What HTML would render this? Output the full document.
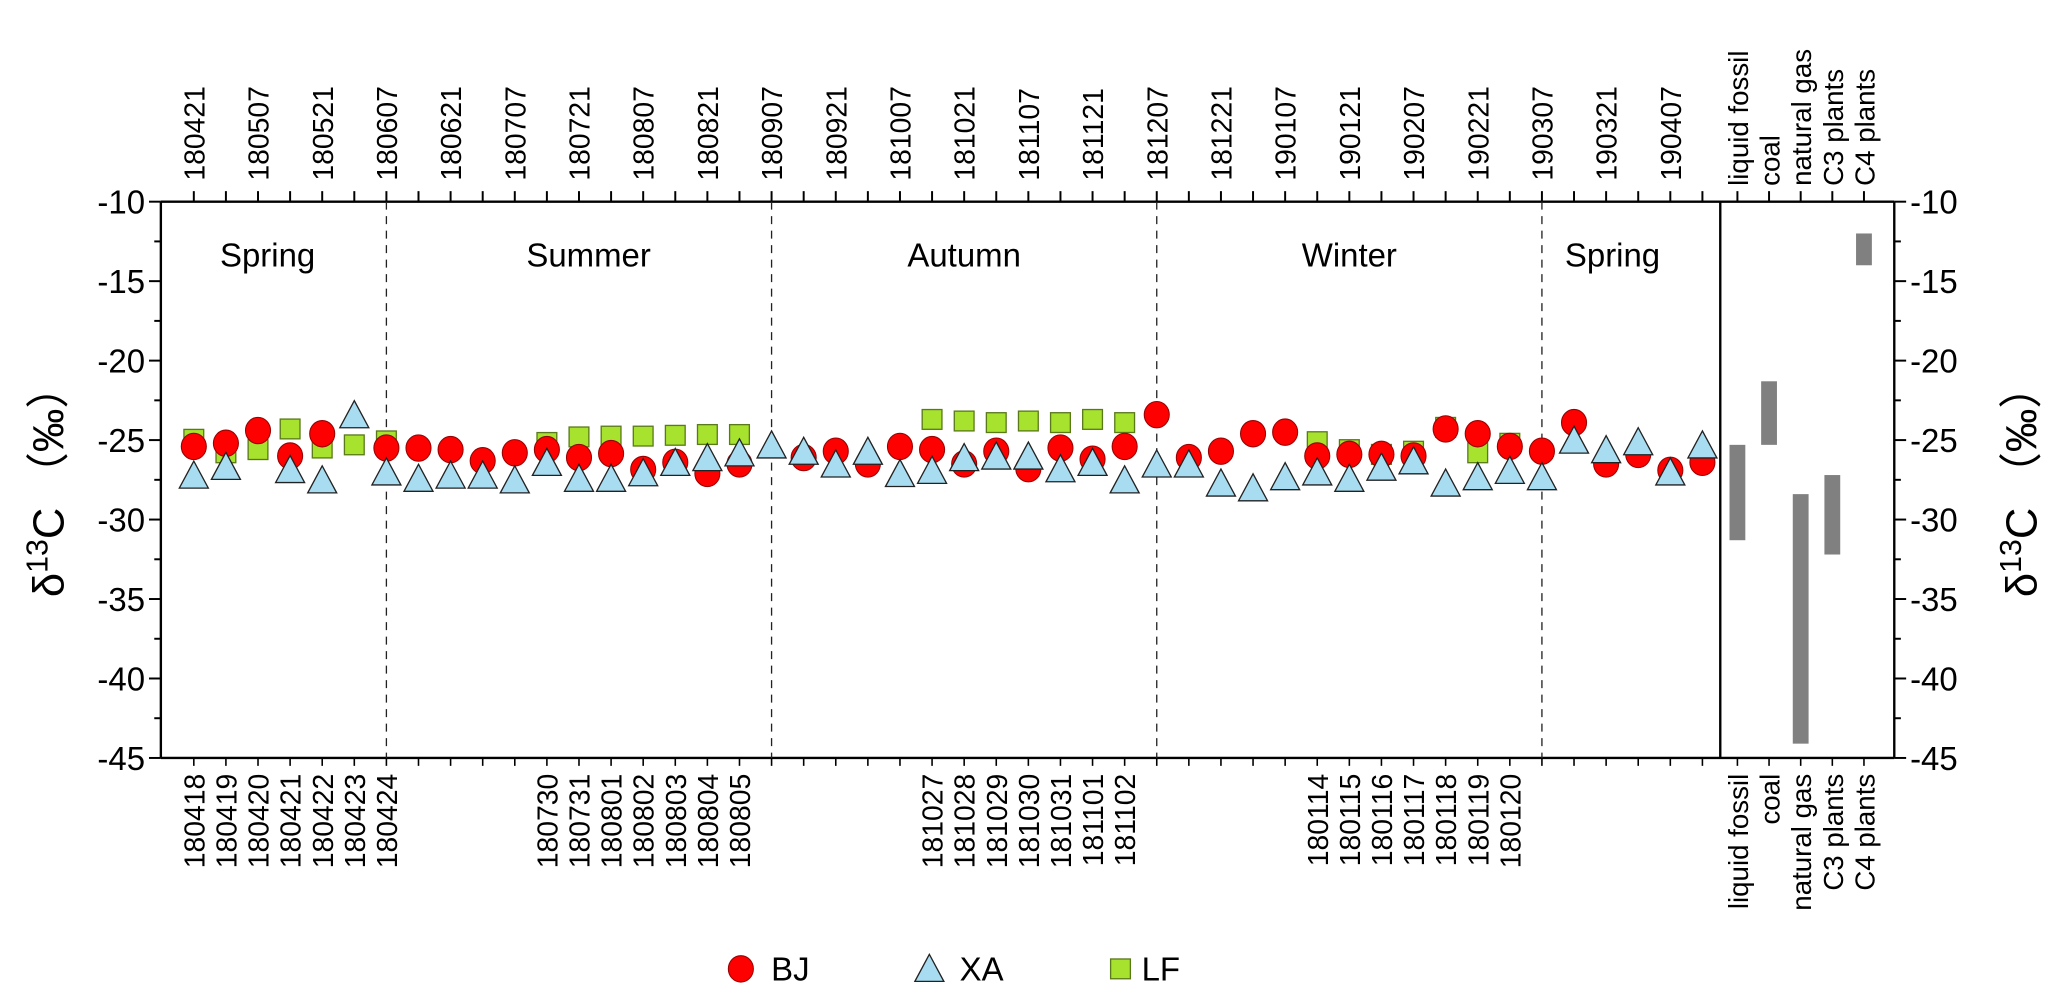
<!DOCTYPE html>
<html><head><meta charset="utf-8"><style>
html,body{margin:0;padding:0;background:#fff}
svg{display:block;font-family:"Liberation Sans",Arial,sans-serif}
</style></head><body>
<svg id="chart" width="2067" height="998" viewBox="0 0 1568 757.1" xmlns="http://www.w3.org/2000/svg"></svg>
<script>
const topLabels=["180421","180507","180521","180607","180621","180707","180721","180807","180821","180907","180921","181007","181021","181107","181121","181207","181221","190107","190121","190207","190221","190307","190321","190407"];
const bottomIdx=[0,1,2,3,4,5,6,11,12,13,14,15,16,17,23,24,25,26,27,28,29,35,36,37,38,39,40,41];
const bottomLabels=["180418","180419","180420","180421","180422","180423","180424","180730","180731","180801","180802","180803","180804","180805","181027","181028","181029","181030","181031","181101","181102","180114","180115","180116","180117","180118","180119","180120"];
const bjValues=[-25.4,-25.2,-24.4,-26.0,-24.6,null,-25.5,-25.5,-25.6,-26.3,-25.8,-25.6,-26.1,-25.85,-26.85,-26.4,-27.1,-26.5,null,-26.1,-25.7,-26.5,-25.4,-25.6,-26.5,-25.7,-26.8,-25.5,-26.2,-25.4,-23.4,-26.1,-25.7,-24.6,-24.5,-26.0,-25.9,-25.9,-26.0,-24.3,-24.6,-25.4,-25.7,-23.9,-26.5,-25.9,-26.9,-26.4];
const xaValues=[-27.4,-26.85,null,-27.05,-27.7,-23.6,-27.2,-27.6,-27.4,-27.4,-27.7,-26.6,-27.6,-27.6,-27.25,-26.6,-26.3,-26.0,-25.5,-25.9,-26.7,-25.9,-27.3,-27.1,-26.3,-26.2,-26.2,-27.0,-26.6,-27.7,-26.7,-26.7,-27.9,-28.2,-27.5,-27.2,-27.6,-26.9,-26.5,-27.9,-27.5,-27.1,-27.5,-25.2,-25.8,-25.3,-27.2,-25.5];
const lfValues=[-24.95,-25.8,-25.6,-24.3,-25.5,-25.3,-25.05,null,null,null,null,-25.15,-24.8,-24.75,-24.75,-24.7,-24.65,-24.65,null,null,null,null,null,-23.7,-23.8,-23.9,-23.8,-23.9,-23.7,-23.9,null,null,null,null,null,-25.1,-25.6,-25.9,-25.7,-24.2,-25.8,-25.2,null,null,null,null,null,null];
const sourceNames=["liquid fossil","coal","natural gas","C3 plants","C4 plants"];
const sourceTop=[-25.3,-21.3,-28.4,-27.2,-12.0];
const sourceBottom=[-31.3,-25.3,-44.1,-32.2,-14.0];
const seasonNames=["Spring","Summer","Autumn","Winter","Spring"];
const seasonCenters=[2.3,12.3,24,36,44.2];
const dividers=[6,18,30,42];
const yTicks=[-10,-15,-20,-25,-30,-35,-40,-45];

const NS="http://www.w3.org/2000/svg";
const svg=document.getElementById('chart');
const L=122,R=1305,R2=1437,T=153,B=575;
const x=i=>147+24.35*i;
const y=v=>T+(v+10)*(-(B-T)/35);
const sx=i=>1318+24*i;
function mk(tag,attrs,parent){const e=document.createElementNS(NS,tag);for(const k in attrs)e.setAttribute(k,attrs[k]);(parent||svg).appendChild(e);return e;}
function txt(s,attrs,parent){const e=mk('text',attrs,parent);e.textContent=s;return e;}

let g=mk('g',{});


mk('line',{x1:L,y1:T,x2:R2,y2:T,stroke:'#000','stroke-width':1.8},g);
mk('line',{x1:L,y1:B,x2:R2,y2:B,stroke:'#000','stroke-width':1.8},g);
mk('line',{x1:L,y1:T,x2:L,y2:B,stroke:'#000','stroke-width':1.8},g);
mk('line',{x1:R,y1:T,x2:R,y2:B,stroke:'#000','stroke-width':1.8},g);
mk('line',{x1:R2,y1:T,x2:R2,y2:B,stroke:'#000','stroke-width':1.8},g);

const ya=mk('g',{});


for(let v=-10;v>=-45;v-=2.5){const maj=(v%5===0);const len=maj?9:5;
 mk('line',{x1:L-len,y1:y(v),x2:L,y2:y(v),stroke:'#000','stroke-width':1.5},ya);
 mk('line',{x1:R2,y1:y(v),x2:R2+len,y2:y(v),stroke:'#000','stroke-width':1.5},ya);}
yTicks.forEach(v=>{
 const a=txt(String(v),{x:L-12,y:y(v)+9,'font-size':25,'text-anchor':'end'},ya);
 
 
 const b=txt(String(v),{x:R2+12,y:y(v)+9,'font-size':25,'text-anchor':'start'},ya);
 
 
});
function ytitle(cx,name){const t=mk('text',{transform:`translate(${cx},365) rotate(-90)`,'font-size':33,'text-anchor':'middle'});
 
 
 t.innerHTML='δ<tspan dy="-12" font-size="23">13</tspan><tspan dy="12">C （‰）</tspan>';}
ytitle(48,'y-axis-title');ytitle(1545,'right-y-axis-title');

const xa=mk('g',{});


for(let i=0;i<48;i++){mk('line',{x1:x(i),y1:T-8,x2:x(i),y2:T,stroke:'#000','stroke-width':1.5},xa);
 mk('line',{x1:x(i),y1:B,x2:x(i),y2:B+6,stroke:'#000','stroke-width':1.2},xa);}
topLabels.forEach((s,k)=>{const i=k*2;
 const t=txt(s,{transform:`translate(${x(i)+8},${T-16}) rotate(-90)`,'font-size':21.5,'text-anchor':'start'},xa);
 
 });
bottomLabels.forEach((s,k)=>{const i=bottomIdx[k];
 const t=txt(s,{transform:`translate(${x(i)+8},${B+12}) rotate(-90)`,'font-size':21.5,'text-anchor':'end'},xa);
 
 });

dividers.forEach(i=>{const l=mk('line',{x1:x(i),y1:T,x2:x(i),y2:B,stroke:'#222','stroke-width':1,'stroke-dasharray':'6,5'});
 
 });
seasonNames.forEach((s,k)=>{const t=txt(s,{x:x(seasonCenters[k]),y:202,'font-size':25,'text-anchor':'middle'});
 
 });

sourceNames.forEach((s,k)=>{
 const r=mk('rect',{x:sx(k)-6,y:y(sourceTop[k]),width:12,height:y(sourceBottom[k])-y(sourceTop[k]),fill:'#808080'});
 
 
 mk('line',{x1:sx(k),y1:T-8,x2:sx(k),y2:T,stroke:'#000','stroke-width':1.5});
 mk('line',{x1:sx(k),y1:B,x2:sx(k),y2:B+6,stroke:'#000','stroke-width':1.2});
 const a=txt(s,{transform:`translate(${sx(k)+8},${T-12}) rotate(-90)`,'font-size':21,'text-anchor':'start'});
 
 
 const b=txt(s,{transform:`translate(${sx(k)+8},${B+12}) rotate(-90)`,'font-size':21,'text-anchor':'end'});
 
 
});

function square(cx,cy,p){return mk('rect',{x:cx-7.5,y:cy-7.5,width:15,height:15,fill:'#a6e22e',stroke:'#5a7a1a','stroke-width':1},p);}
function circle(cx,cy,p){return mk('ellipse',{cx:cx,cy:cy,rx:9.5,ry:10,fill:'#ff0000',stroke:'#900','stroke-width':0.8},p);}
function tri(cx,cy,p){return mk('polygon',{points:`${cx},${cy-13} ${cx-11},${cy+7.5} ${cx+11},${cy+7.5}`,fill:'#a8dcf0',stroke:'#222','stroke-width':1},p);}
const gl=mk('g',{});
lfValues.forEach((v,i)=>{if(v===null)return;const e=square(x(i),y(v),gl);
 
 });
const gb=mk('g',{});
bjValues.forEach((v,i)=>{if(v===null)return;const e=circle(x(i),y(v),gb);
 
 });
const gx=mk('g',{});
xaValues.forEach((v,i)=>{if(v===null)return;const e=tri(x(i),y(v),gx);
 
 });

const lg=mk('g',{});


let e1=circle(562,735,lg);
let t1=txt('BJ',{x:585,y:744,'font-size':25},lg);
let e2=tri(705,737,lg);
let t2=txt('XA',{x:728,y:744,'font-size':25},lg);
let e3=square(850,735,lg);
let t3=txt('LF',{x:866,y:744,'font-size':25},lg);
</script>
</body></html>
